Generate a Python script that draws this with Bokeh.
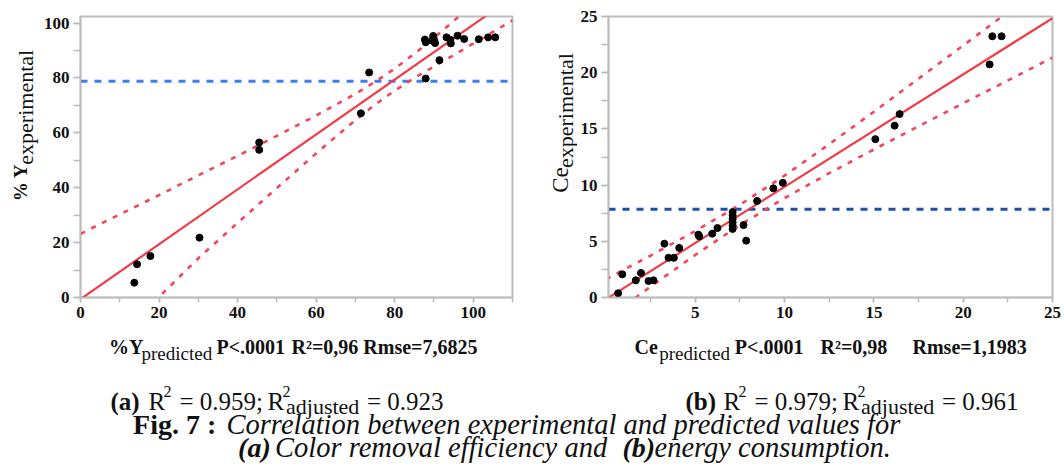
import math
from bokeh.plotting import figure
from bokeh.models import Range1d, SingleIntervalTicker, Label
from bokeh.layouts import column, row
from bokeh.embed import file_html
from bokeh.resources import INLINE

# ---------------- data ----------------
# (a) colour removal efficiency %Y
Y_predicted = [13.7, 14.4, 17.8, 30.3, 45.5, 45.5, 71.4, 73.5, 87.9, 91.4,
               87.7, 87.9, 89.8, 90.0, 90.3, 89.5, 93.2, 94.2, 94.3, 96.0,
               97.7, 101.4, 103.8, 105.6]
Y_experimental = [5.4, 12.1, 15.1, 21.8, 56.5, 53.8, 67.1, 82.0, 79.8, 86.5,
                  94.0, 93.0, 95.3, 94.0, 92.7, 93.6, 94.8, 93.9, 92.6, 95.4,
                  94.2, 94.1, 94.8, 94.8]
Y_mean = 78.8
Y_fit = (-0.6, 1.0)          # intercept, slope
Y_band_x = [0, 10, 20, 30, 40, 50, 60, 70, 75, 80, 85, 90, 100, 110]
Y_band_upper = [23.2, 30.3, 37.3, 44.5, 51.6, 58.9, 66.3, 74.2, 78.6, 83.4, 88.8, 94.6, 106.9, 119.5]
Y_band_lower = [-24.4, -13.0, 0.2, 14.3, 27.2, 39.9, 52.5, 64.6, 70.3, 75.4, 80.0, 84.2, 92.5, 101.0]

# (b) energy consumption Ce
Ce_predicted = [0.68, 0.91, 1.67, 1.96, 2.38, 2.66, 3.27, 3.50, 3.80, 4.10,
                5.17, 5.22, 5.95, 6.24, 7.09, 7.09, 7.09, 7.09, 7.09, 7.09,
                7.70, 7.85, 8.46, 9.37, 9.90, 15.08, 16.16, 16.44, 21.48, 21.63, 22.15]
Ce_experimental = [0.38, 2.06, 1.53, 2.18, 1.47, 1.53, 4.79, 3.53, 3.53, 4.41,
                   5.59, 5.44, 5.68, 6.18, 7.60, 7.30, 7.00, 6.70, 6.40, 6.10,
                   6.44, 5.06, 8.59, 9.71, 10.20, 14.09, 15.29, 16.32, 20.74, 23.24, 23.24]
Ce_mean = 7.85
Ce_fit = (-0.15, 1.0)
Ce_band_x = [0, 2.5, 5, 7.5, 10, 12.5, 15, 17.5, 20, 22.5, 25]
Ce_band_upper = [1.63, 3.73, 5.91, 8.25, 10.85, 13.64, 16.53, 19.47, 22.42, 25.39, 28.36]
Ce_band_lower = [-1.93, 0.97, 3.79, 6.45, 8.85, 11.06, 13.17, 15.23, 17.28, 19.31, 21.34]

# ---------------- styling ----------------
SERIF = "Liberation Serif"
GREY = "#bcbcbc"
RED = "#f03c48"
RED_D = "#f2465a"
BLUE_A = "#3d7cf5"
BLUE_B = "#1f4fae"
TXT = "#111111"
TOP_H = 330
TOTAL_H = 466
TOTAL_W = 1062


def panel(width, height, left, right, top, bottom, xr, yr, xint, yint):
    p = figure(width=width, height=height, x_range=Range1d(*xr), y_range=Range1d(*yr),
               min_border_left=left, min_border_right=right, min_border_top=top,
               min_border_bottom=bottom, output_backend="svg", toolbar_location=None)
    p.grid.visible = False
    p.outline_line_color = GREY
    p.outline_line_width = 2
    p.background_fill_color = "white"
    p.border_fill_color = "white"
    p.xaxis.ticker = SingleIntervalTicker(interval=xint, num_minor_ticks=2)
    p.yaxis.ticker = SingleIntervalTicker(interval=yint, num_minor_ticks=2)
    for ax in (p.xaxis[0], p.yaxis[0]):
        ax.axis_line_color = GREY
        ax.axis_line_width = 1.5
        ax.major_tick_line_color = GREY
        ax.minor_tick_line_color = GREY
        ax.major_tick_line_width = 1.5
        ax.minor_tick_line_width = 1.5
        ax.major_tick_in = 0
        ax.minor_tick_in = 0
        ax.major_label_text_font = SERIF
        ax.major_label_text_font_style = "bold"
        ax.major_label_text_font_size = "17px"
        ax.major_label_text_color = TXT
    p.xaxis.major_tick_out = 5
    p.xaxis.minor_tick_out = 5
    p.xaxis.major_label_standoff = 4
    p.yaxis.major_tick_out = 7
    p.yaxis.minor_tick_out = 7
    p.yaxis.major_label_standoff = 4
    return p


def draw(p, xs, ys, mean, fit, bx, bu, bl, xr, blue):
    p.line(list(xr), [mean, mean], line_color=blue, line_width=3, line_dash="7 7")
    b0, b1 = fit
    p.line(list(xr), [b0 + b1 * xr[0], b0 + b1 * xr[1]], line_color=RED, line_width=2.2)
    p.line(bx, bu, line_color=RED_D, line_width=2.6, line_dash="5 7")
    p.line(bx, bl, line_color=RED_D, line_width=2.6, line_dash="5 7")
    p.scatter(xs, ys, size=7, color="black")


def text_fig(x0, y0, w, h):
    """A plain figure whose data coordinates equal page pixels (x right, y measured from page top)."""
    f = figure(width=w, height=h, x_range=Range1d(x0, x0 + w), y_range=Range1d(-(y0 + h), -y0),
               x_axis_location=None, y_axis_location=None, min_border=0,
               output_backend="svg", toolbar_location=None)
    f.outline_line_color = None
    f.grid.visible = False
    f.background_fill_color = "white"
    f.border_fill_color = "white"
    return f


def lab(f, ix, iy, text, size, style="normal", angle=0.0):
    f.add_layout(Label(x=ix, y=-iy, text=text, text_font=SERIF, text_font_size=size,
                       text_font_style=style, text_color=TXT, angle=angle,
                       text_align="left", text_baseline="alphabetic"))


# ---------------- panel (a) ----------------
XA = (0, 110)
YA = (0, 102.4)
p1 = panel(504, TOP_H, 39, 32, 16, TOP_H - 298, XA, YA, 20, 20)
draw(p1, Y_predicted, Y_experimental, Y_mean, Y_fit, Y_band_x, Y_band_upper, Y_band_lower, XA, BLUE_A)

yl1 = text_fig(0, 0, 40, TOP_H)
lab(yl1, 20, 217, "% Y", "19px", "bold", math.pi / 2)
lab(yl1, 24.5, 174, "experimental", "22px", "normal", math.pi / 2)

# ---------------- panel (b) ----------------
XB = (0.14, 25.0)
YB = (0, 25.0)
p2 = panel(TOTAL_W - 577, TOP_H, 30, TOTAL_W - 1052, 12, TOP_H - 297, XB, YB, 5, 5)
draw(p2, Ce_predicted, Ce_experimental, Ce_mean, Ce_fit, Ce_band_x, Ce_band_upper, Ce_band_lower, XB, BLUE_B)

yl2 = text_fig(544, 0, 33, TOP_H)
lab(yl2, 560, 207, "Ce", "23px", "normal", math.pi / 2)
lab(yl2, 565, 178, "experimental", "22px", "normal", math.pi / 2)

# ---------------- axis titles and caption ----------------
cap = text_fig(0, TOP_H, TOTAL_W, TOTAL_H - TOP_H)

lab(cap, 108.5, 346, "%Y", "20px", "bold")
lab(cap, 141, 353, "predicted", "19px")
lab(cap, 216, 346, "P<.0001", "20px", "bold")
lab(cap, 291, 346, "R²=0,96 Rmse=7,6825", "20px", "bold")

lab(cap, 634, 346, "Ce", "20px", "bold")
lab(cap, 658.7, 353, "predicted", "19px")
lab(cap, 734.3, 346, "P<.0001", "20px", "bold")
lab(cap, 820, 346, "R²=0,98", "20px", "bold")
lab(cap, 912, 346, "Rmse=1,1983", "20px", "bold")


def r2_line(x0, tag, r2, r2adj):
    lab(cap, x0, 401, tag, "25px", "bold")
    lab(cap, x0 + 38, 401, "R", "25px")
    lab(cap, x0 + 53, 391, "2", "16px")
    lab(cap, x0 + 69, 401, "= " + r2 + ";", "25px")
    lab(cap, x0 + 157, 401, "R", "25px")
    lab(cap, x0 + 172, 391, "2", "16px")
    lab(cap, x0 + 175.5, 406, "adjusted", "22px")
    lab(cap, x0 + 256.5, 401, "= " + r2adj, "25px")


r2_line(110, "(a)", "0.959", "0.923")
r2_line(685, "(b)", "0.979", "0.961")

lab(cap, 132.6, 424, "Fig. 7 :", "28px", "bold")
lab(cap, 226, 424, "Correlation between experimental and predicted values for", "28.5px", "italic")
lab(cap, 237.6, 447, "(a)", "28px", "bold italic")
lab(cap, 274.5, 447, "Color removal efficiency and", "28.5px", "italic")
lab(cap, 622, 447, "(b)", "28px", "bold italic")
lab(cap, 654, 447, "energy consumption.", "28.5px", "italic")

layout = column(row(yl1, p1, yl2, p2), cap)
open("out.html", "w").write(file_html(layout, INLINE))
